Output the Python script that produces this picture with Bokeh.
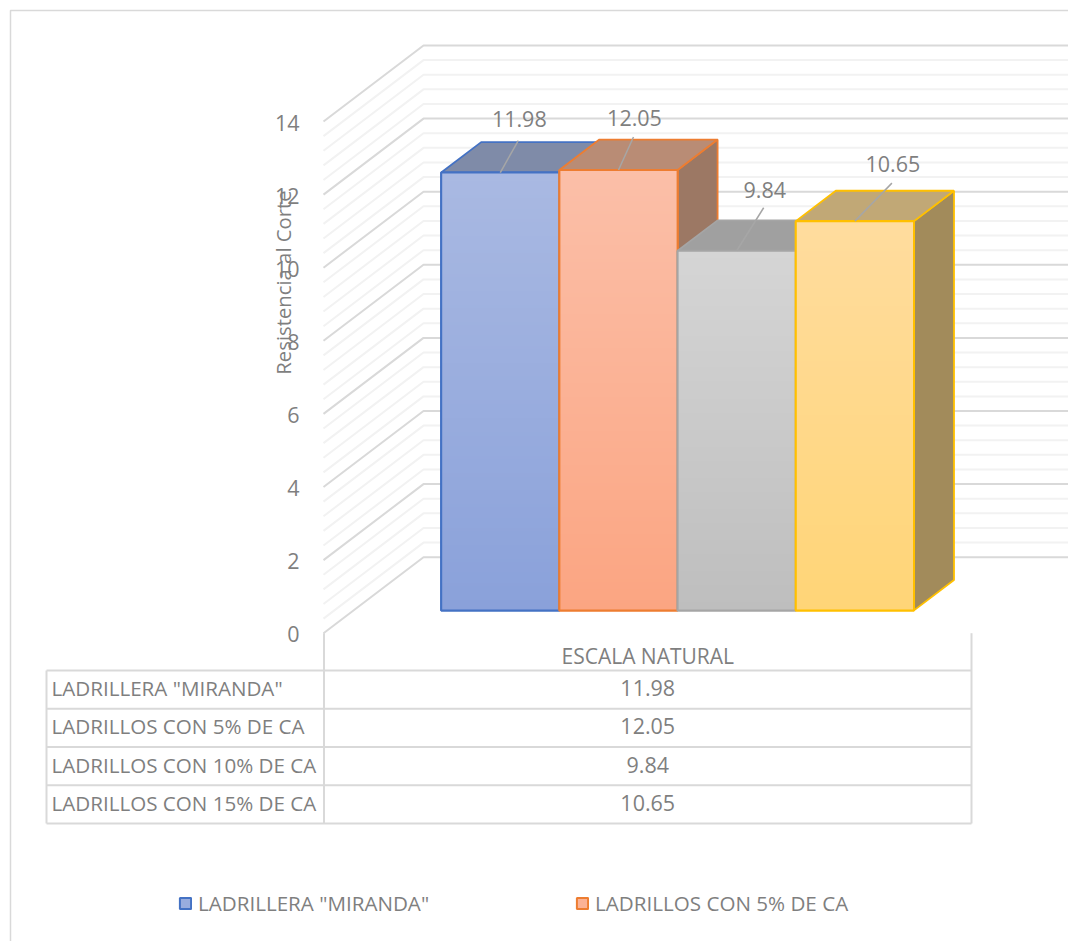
import numpy as np
from bokeh.core.properties import value
from bokeh.embed import file_html
from bokeh.models import FixedTicker, Legend, LegendItem, LinearAxis, Range1d
from bokeh.plotting import figure
from bokeh.resources import INLINE

# Chart data
series_names = ['LADRILLERA "MIRANDA"', "LADRILLOS CON 5% DE CA",
                "LADRILLOS CON 10% DE CA", "LADRILLOS CON 15% DE CA"]
series_values = [11.98, 12.05, 9.84, 10.65]
category = "ESCALA NATURAL"
y_ticks = [0, 2, 4, 6, 8, 10, 12, 14]
y_title = "Resistencia al Corte"

# Face colours of each 3D bar
edge_colors = ["#4472C4", "#ED7D31", "#A5A5A5", "#FFC000"]
front_top = ["#A9B9E2", "#FBBFA8", "#D5D5D5", "#FFDC9E"]
front_bottom = ["#8AA1DA", "#FBA582", "#BEBEBE", "#FFD577"]
top_faces = ["#7F8BA8", "#B98C75", "#A0A0A0", "#C1A876"]
side_faces = ["#6F7F9F", "#9C7864", "#8F8F8F", "#A28B5B"]

# Leader offsets of the value labels, in pixels from the front top edge
leader_dx = [18, 15, 27, 37]
leader_dy = [32, 33, 43, 38]
label_gap = [22, 19, 18, 19]

TEXT = "#7F7F7F"
GRID_MAJOR = "#D9D9D9"
GRID_MINOR = "#F2F2F2"
FONT = value("Open Sans")
LABEL_SIZE = "20.6px"
NUMBER_SIZE = "21.5px"

W, H = 1068, 941
PX_PER_UNIT = 36.55
ZERO_PX = 632.7
WALL_X = 323.0
DEPTH_X = 100.0
DEPTH_UNITS = 76.0 / PX_PER_UNIT
BAR_X0 = 410.7
BAR_W = 118.2
BAR_NEAR, BAR_FAR = 0.3, 0.7
TICK_LABEL_DROP = 1 / PX_PER_UNIT

y_low, y_high = (ZERO_PX - H) / PX_PER_UNIT, ZERO_PX / PX_PER_UNIT
p = figure(width=W, height=H, output_backend="svg", toolbar_location=None,
           x_range=Range1d(0, W), y_range=Range1d(y_low, y_high),
           x_axis_type=None, y_axis_type=None, min_border=0,
           outline_line_color=None, background_fill_color="white",
           border_fill_color="white")
p.grid.visible = False
# The tick labels sit slightly under their gridlines
p.extra_y_ranges["ticks"] = Range1d(y_low + TICK_LABEL_DROP, y_high + TICK_LABEL_DROP)


def vy(px):
    """Convert a pixel row to the value scale."""
    return (ZERO_PX - px) / PX_PER_UNIT


def project(x, v, depth):
    """Oblique projection of a floor position, value and depth fraction."""
    return x + depth * DEPTH_X, v + depth * DEPTH_UNITS


# Wall gridlines: up the side wall, then across the back wall
minor = [t for t in np.arange(0.4, 14, 0.4) if round(t, 1) not in y_ticks]
for levels, color in ((minor, GRID_MINOR), (y_ticks, GRID_MAJOR)):
    xs, ys = [], []
    for t in levels:
        x0, y0 = project(WALL_X, t, 0)
        x1, y1 = project(WALL_X, t, 1)
        xs.append([x0, x1, W])
        ys.append([y0, y1, y1])
    p.multi_line(xs, ys, line_color=color, line_width=2)

# Bars, drawn from left to right so each one overlaps the previous side face
legend_items = []
for i, (name, val) in enumerate(zip(series_names, series_values)):
    left = BAR_X0 + i * BAR_W
    right = left + BAR_W
    fl, base = project(left, 0, BAR_NEAR)
    fr, _ = project(right, 0, BAR_NEAR)
    top = base + val
    bl, back_base = project(left, 0, BAR_FAR)
    br, _ = project(right, 0, BAR_FAR)
    back_top = back_base + val
    edge = edge_colors[i]

    p.patch([fr, br, br, fr], [base, back_base, back_top, top],
            fill_color=side_faces[i], line_color=edge, line_width=1.8)
    p.patch([fl, bl, br, fr], [top, back_top, back_top, top],
            fill_color=top_faces[i], line_color=edge, line_width=1.8)

    mid = tuple((int(front_top[i][k:k + 2], 16) + int(front_bottom[i][k:k + 2], 16)) // 2
                for k in (1, 3, 5))
    front = p.quad(left=fl, right=fr, bottom=base, top=top, fill_color=mid,
                   line_color=edge, line_width=2)
    c0 = np.array([int(front_bottom[i][k:k + 2], 16) for k in (1, 3, 5)], dtype=float)
    c1 = np.array([int(front_top[i][k:k + 2], 16) for k in (1, 3, 5)], dtype=float)
    shade = np.linspace(0, 1, 128)[:, None]
    rgb = (c0 + (c1 - c0) * shade).round().astype(np.uint32)
    ramp = (255 << 24) | (rgb[:, 2] << 16) | (rgb[:, 1] << 8) | rgb[:, 0]
    p.image_rgba(image=[ramp.reshape(-1, 1)], x=fl, y=base, dw=fr - fl, dh=val)
    p.quad(left=fl, right=fr, bottom=base, top=top, fill_alpha=0,
           line_color=edge, line_width=2)
    if i < 2:
        legend_items.append(LegendItem(label=name, renderers=[front]))

# Value labels with their leader lines
for i, val in enumerate(series_values):
    cx, base = project(BAR_X0 + (i + 0.5) * BAR_W, 0, BAR_NEAR)
    top = base + val
    ex, ey = cx + leader_dx[i], top + leader_dy[i] / PX_PER_UNIT
    p.line([cx, ex], [top, ey], line_color="#A6A6A6", line_width=1.5)
    p.text([ex + 1], [ey + label_gap[i] / PX_PER_UNIT], text=[f"{val:.2f}"], text_color=TEXT,
           text_font=FONT, text_font_size=NUMBER_SIZE, text_align="center",
           text_baseline="middle")

# Value axis, placed on the front edge of the side wall
axis = LinearAxis(fixed_location=WALL_X, ticker=FixedTicker(ticks=y_ticks),
                  y_range_name="ticks",
                  axis_line_color=None, major_tick_line_color=None,
                  minor_tick_line_color=None, major_label_standoff=18,
                  major_label_text_color=TEXT, major_label_text_font="Open Sans",
                  major_label_text_font_size=NUMBER_SIZE)
p.add_layout(axis, "left")
p.text([282], [vy(282)], text=[y_title], angle=np.pi / 2, text_color=TEXT,
       text_font=FONT, text_font_size="20.3px", text_align="center",
       text_baseline="middle")

# Data table below the plot
table_top = 670.0
row_h = 38.25
table_left, col_split, table_right = 46.0, 323.5, 971.0
rows = [table_top + k * row_h for k in range(len(series_names) + 1)]
p.multi_line([[table_left, table_right] for _ in rows],
             [[vy(r), vy(r)] for r in rows],
             line_color=GRID_MAJOR, line_width=2)
p.multi_line([[table_left, table_left], [col_split, col_split], [table_right, table_right]],
             [[vy(rows[0]), vy(rows[-1])], [vy(ZERO_PX), vy(rows[-1])], [vy(ZERO_PX), vy(rows[-1])]],
             line_color=GRID_MAJOR, line_width=2)
p.text([(col_split + table_right) / 2], [vy(655.5)], text=[category], text_color=TEXT,
       text_font=FONT, text_font_size="21px", text_align="center", text_baseline="middle")
row_mid = [vy(r + row_h / 2 - 1.5) for r in rows[:-1]]
p.text([51] * 4, row_mid, text=series_names, text_color=TEXT, text_font=FONT,
       text_font_size=LABEL_SIZE, text_align="left", text_baseline="middle")
p.text([(col_split + table_right) / 2] * 4, row_mid,
       text=[f"{v:.2f}" for v in series_values], text_color=TEXT, text_font=FONT,
       text_font_size=NUMBER_SIZE, text_align="center", text_baseline="middle")

# Chart area border, top and left edges
p.line([10, 10, W], [vy(H), vy(10), vy(10)], line_color=GRID_MAJOR, line_width=1.5)

# Legend
legend = Legend(items=legend_items, orientation="horizontal", location=(178, 24),
                glyph_width=14, glyph_height=14, label_standoff=6, spacing=146,
                padding=0, margin=0, border_line_color=None, background_fill_alpha=0,
                label_text_color=TEXT, label_text_font="Open Sans",
                label_text_font_size=LABEL_SIZE)
p.add_layout(legend, "center")

open("out.html", "w").write(file_html(p, INLINE))
